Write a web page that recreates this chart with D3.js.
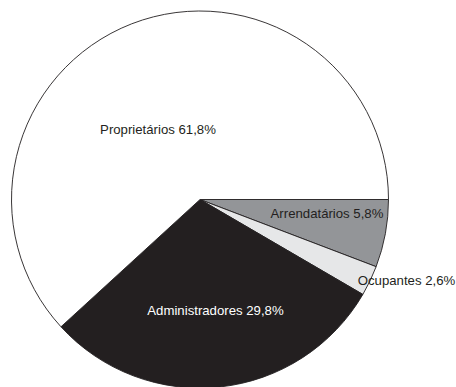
<!DOCTYPE html>
<html>
<head>
<meta charset="utf-8">
<script src="https://cdn.jsdelivr.net/npm/d3@7/dist/d3.min.js"></script>
<style>
  html, body { margin: 0; padding: 0; background: #fff; }
  svg { display: block; }
  text { font-family: "Liberation Sans", Arial, Helvetica, sans-serif; font-size: 13.2px; }
</style>
</head>
<body>
<svg id="chart" width="456" height="387"></svg>
<script>
// Condição do produtor (%)
const categories = ["Arrendatários", "Ocupantes", "Administradores", "Proprietários"];
const values = [5.8, 2.6, 29.8, 61.8];
const fills = ["#939598", "#e6e7e8", "#231f20", "#ffffff"];
const labelColors = ["#231f20", "#231f20", "#ffffff", "#231f20"];
// label centres relative to the pie centre (x, baseline y)
const labelOffsets = [[127, 18.5], [206.5, 85], [15.5, 115], [-42, -66]];

const width = 456, height = 387;
const cx = 200, cy = 199.5, radius = 188.5;

const svg = d3.select("#chart");
const g = svg.append("g").attr("transform", `translate(${cx},${cy})`);

const data = categories.map((c, i) => ({ name: c, value: values[i], i }));

// slices start at 3 o'clock and run clockwise
const pie = d3.pie()
  .value(d => d.value)
  .sort(null)
  .startAngle(Math.PI / 2)
  .endAngle(Math.PI / 2 + 2 * Math.PI);

const arc = d3.arc().innerRadius(0).outerRadius(radius);

g.selectAll("path.slice")
  .data(pie(data))
  .join("path")
  .attr("class", "slice")
  .attr("d", arc)
  .attr("fill", d => fills[d.data.i])
  .attr("stroke", "#231f20")
  .attr("stroke-width", 0.9)
  .attr("stroke-linejoin", "round");

const fmt = v => d3.format(".1f")(v).replace(".", ",") + "%";

g.selectAll("text.label")
  .data(data)
  .join("text")
  .attr("class", "label")
  .attr("x", d => labelOffsets[d.i][0])
  .attr("y", d => labelOffsets[d.i][1])
  .attr("text-anchor", "middle")
  .attr("fill", d => labelColors[d.i])
  .text(d => `${d.name} ${fmt(d.value)}`);
</script>
</body>
</html>
